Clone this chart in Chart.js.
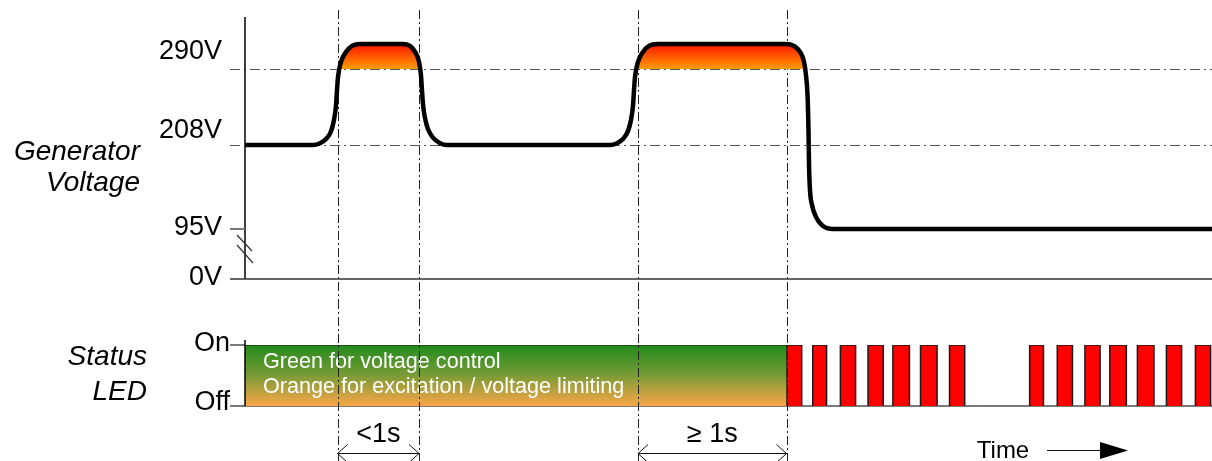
<!DOCTYPE html>
<html>
<head>
<meta charset="utf-8">
<title>Generator voltage and status LED</title>
<script src="https://cdn.jsdelivr.net/npm/chart.js@4.4.0/dist/chart.umd.min.js"></script>
<style>
  html, body { margin: 0; padding: 0; background: #fff; }
  .wrap { position: relative; width: 1212px; height: 461px; overflow: hidden; }
  #voltageChart { position: absolute; left: 0; top: 0; }
  #ledChart { position: absolute; left: 0; top: 300px; }
</style>
</head>
<body>
<div class="wrap">
  <canvas id="voltageChart" width="1212" height="300"></canvas>
  <canvas id="ledChart" width="1212" height="161"></canvas>
</div>
<script>
// time in seconds, voltage in volts
const timeMin = 0;
const timeMax = 7;

const voltTimes = [0, 0.492, 0.543, 0.586, 0.623, 0.644, 0.659, 0.666, 0.673, 0.695, 0.731, 0.775, 0.832,
    1.144, 1.194, 1.231, 1.260, 1.274, 1.281, 1.289, 1.303, 1.325, 1.361, 1.412, 1.462,
    2.642, 2.693, 2.736, 2.772, 2.794, 2.809, 2.816, 2.823, 2.845, 2.881, 2.924, 2.989,
    3.916, 3.974, 4.018, 4.047, 4.061, 4.072, 4.079, 4.083, 4.090, 4.105, 4.134, 4.177, 4.257, 7.0];
const voltValues = [208, 208, 210, 214.5, 223, 235, 251, 267, 281, 297, 307, 313, 315,
    315, 313, 307, 297, 283, 267, 251, 237, 225, 216, 210, 208,
    208, 210, 214.5, 223, 235, 251, 267, 281, 297, 307, 313, 315,
    315, 313, 307, 297, 283, 262, 224, 181, 147, 127, 111, 100, 95, 95];

const voltTickValues = [0, 95, 208, 290];
const voltTickLabels = ['0V', '95V', '208V', '290V'];
const voltRefLines = [208, 290];
const voltLimit = 290;

const markerTimes = [0.67, 1.26, 2.845, 3.92];
const spanLabels = ['<1s', '\u2265 1s'];

const ledStates = ['Off', 'On'];
const steadyOnUntil = 3.92;
const blinkStarts = [3.92, 4.11, 4.31, 4.51, 4.69, 4.89, 5.10, 5.68, 5.88, 6.08, 6.26, 6.46, 6.67, 6.88];
const blinkEnds = [4.03, 4.21, 4.42, 4.62, 4.81, 5.01, 5.21, 5.78, 5.99, 6.19, 6.38, 6.58, 6.78, 6.99];
const ledNotes = ['Green for voltage control', 'Orange for excitation / voltage limiting'];

const FONT = "'Liberation Sans', Arial, sans-serif";

// the voltage axis is a schematic one with a break below 95V
const axisKnots = [0, 95, 208, 290, 342];
const axisKnotSpots = [0, 0.191, 0.511, 0.802, 1];

function interp(v, from, to) {
    for (let i = 1; i < from.length; i++) {
        if (v <= from[i] || i === from.length - 1) {
            const f = (v - from[i - 1]) / (from[i] - from[i - 1]);
            return to[i - 1] + f * (to[i] - to[i - 1]);
        }
    }
    return to[0];
}

class SchematicScale extends Chart.LinearScale {
    getPixelForValue(value) {
        return this.getPixelForDecimal(interp(value, axisKnots, axisKnotSpots));
    }
    getValueForPixel(pixel) {
        return interp(this.getDecimalForPixel(pixel), axisKnotSpots, axisKnots);
    }
}
SchematicScale.id = 'schematic';
SchematicScale.defaults = Chart.LinearScale.defaults;
Chart.register(SchematicScale);

function dashLine(ctx, x1, y1, x2, y2, dash, color, width) {
    ctx.save();
    ctx.strokeStyle = color;
    ctx.lineWidth = width;
    ctx.setLineDash(dash);
    ctx.beginPath();
    ctx.moveTo(x1, y1);
    ctx.lineTo(x2, y2);
    ctx.stroke();
    ctx.restore();
}

function overLimitFill(context) {
    const chart = context.chart;
    const y = chart.scales.y;
    if (!chart.chartArea || !y) return 'rgba(0,0,0,0)';
    const top = y.getPixelForValue(Math.max(...voltValues));
    const bottom = y.getPixelForValue(voltLimit);
    const g = chart.ctx.createLinearGradient(0, top, 0, bottom);
    g.addColorStop(0, '#ff1500');
    g.addColorStop(1, '#ff9c00');
    return g;
}

function steadyFill(context) {
    const chart = context.chart;
    const y = chart.scales.y;
    if (!chart.chartArea || !y) return 'rgba(0,0,0,0)';
    const g = chart.ctx.createLinearGradient(0, y.getPixelForValue(1), 0, y.getPixelForValue(0));
    g.addColorStop(0, '#238a1c');
    g.addColorStop(0.45, '#6f9a34');
    g.addColorStop(1, '#f9a648');
    return g;
}

const voltDecorations = {
    id: 'voltDecorations',
    beforeDatasetsDraw(chart) {
        const {ctx, chartArea: area, scales: {x, y}} = chart;
        const left = area.left;

        markerTimes.forEach(t => {
            const px = Math.round(x.getPixelForValue(t)) + 0.5;
            dashLine(ctx, px, 10, px, chart.height, [9, 3, 2, 3], '#222', 1);
        });

        voltRefLines.forEach(v => {
            const py = Math.round(y.getPixelForValue(v)) + 0.5;
            dashLine(ctx, left - 15, py, area.right, py, [10, 4, 2, 4], '#555', 1.2);
        });

        // y axis, baseline, 95V tick and the break marks
        const y0 = y.getPixelForValue(0);
        const y95 = y.getPixelForValue(95);
        dashLine(ctx, left, area.top, left, y0, [], '#000', 1.5);
        dashLine(ctx, left - 15, y0, area.right, y0, [], '#333', 1.5);
        dashLine(ctx, left - 15, y95, left, y95, [], '#777', 2);
        const mid = (y0 + y95) / 2;
        dashLine(ctx, left - 8, mid - 19, left + 7, mid - 3, [], '#333', 1.2);
        dashLine(ctx, left - 8, mid - 9, left + 8, mid + 9, [], '#333', 1.2);
    },
    afterDraw(chart) {
        const {ctx, scales: {y}} = chart;
        const nudge = [-1, -1, -15, -17];
        ctx.save();
        ctx.fillStyle = '#000';
        ctx.font = '27px ' + FONT;
        ctx.textAlign = 'right';
        ctx.textBaseline = 'middle';
        voltTickValues.forEach((v, i) => {
            ctx.fillText(voltTickLabels[i], 222, y.getPixelForValue(v) + nudge[i]);
        });
        ctx.font = 'italic 28px ' + FONT;
        ctx.textBaseline = 'alphabetic';
        ctx.fillText('Generator', 140, 160);
        ctx.fillText('Voltage', 140, 191);
        ctx.restore();
    }
};

const ledDecorations = {
    id: 'ledDecorations',
    beforeDatasetsDraw(chart) {
        const {ctx, chartArea: area, scales: {y}} = chart;
        const yOff = y.getPixelForValue(0);
        const yOn = y.getPixelForValue(1);
        dashLine(ctx, area.left, yOff, area.right, yOff, [], '#7a7a7a', 2);
        dashLine(ctx, area.left - 15, yOn, area.left, yOn, [], '#7a7a7a', 2);
        dashLine(ctx, area.left - 15, yOff, area.left, yOff, [], '#7a7a7a', 2);
    },
    afterDatasetsDraw(chart) {
        const {ctx, chartArea: area, scales: {x, y}} = chart;
        const yOff = y.getPixelForValue(0);
        const yOn = y.getPixelForValue(1);
        const left = area.left;

        dashLine(ctx, left, yOn - 5, left, yOff, [], '#000', 1.5);

        ctx.save();
        ctx.fillStyle = '#fff';
        ctx.font = '21.6px ' + FONT;
        ctx.textAlign = 'left';
        ctx.fillText(ledNotes[0], left + 18, yOn + 23);
        ctx.fillText(ledNotes[1], left + 18, yOn + 48);
        ctx.restore();

        markerTimes.forEach(t => {
            const px = Math.round(x.getPixelForValue(t)) + 0.5;
            dashLine(ctx, px, 0, px, chart.height, [9, 3, 2, 3], '#222', 1);
        });

        // dimension arrows between marker pairs
        ctx.save();
        ctx.strokeStyle = '#111';
        ctx.fillStyle = '#000';
        ctx.lineWidth = 1;
        ctx.font = '27px ' + FONT;
        ctx.textAlign = 'center';
        const ay = 153.5;
        spanLabels.forEach((label, i) => {
            const a = x.getPixelForValue(markerTimes[i * 2]);
            const b = x.getPixelForValue(markerTimes[i * 2 + 1]);
            ctx.beginPath();
            ctx.moveTo(a, ay); ctx.lineTo(b, ay);
            ctx.moveTo(a + 10, ay - 9); ctx.lineTo(a, ay); ctx.lineTo(a + 10, ay + 9);
            ctx.moveTo(b - 10, ay - 9); ctx.lineTo(b, ay); ctx.lineTo(b - 10, ay + 9);
            ctx.stroke();
            ctx.fillText(label, (a + b) / 2, 142);
        });

        // time direction
        const r = area.right;
        ctx.font = '24px ' + FONT;
        ctx.fillText('Time', r - 209, 158);
        ctx.beginPath();
        ctx.moveTo(r - 165, 150.5);
        ctx.lineTo(r - 105, 150.5);
        ctx.stroke();
        ctx.beginPath();
        ctx.moveTo(r - 112, 142);
        ctx.lineTo(r - 84, 150.5);
        ctx.lineTo(r - 112, 159);
        ctx.closePath();
        ctx.fill();
        ctx.restore();

        ctx.save();
        ctx.fillStyle = '#000';
        ctx.font = '27px ' + FONT;
        ctx.textAlign = 'right';
        ctx.textBaseline = 'middle';
        ctx.fillText(ledStates[1], 230, yOn - 1);
        ctx.fillText(ledStates[0], 230, yOff - 3);
        ctx.font = 'italic 28px ' + FONT;
        ctx.textBaseline = 'alphabetic';
        ctx.fillText('Status', 147, 65);
        ctx.fillText('LED', 147, 100);
        ctx.restore();
    }
};

const baseOptions = {
    responsive: false,
    animation: false,
    events: [],
    plugins: { legend: { display: false }, tooltip: { enabled: false } }
};

new Chart(document.getElementById('voltageChart'), {
    type: 'line',
    data: {
        datasets: [{
            data: voltTimes.map((t, i) => ({ x: t, y: voltValues[i] })),
            borderColor: '#000',
            borderWidth: 4.5,
            borderCapStyle: 'round',
            borderJoinStyle: 'round',
            cubicInterpolationMode: 'monotone',
            pointRadius: 0,
            backgroundColor: overLimitFill,
            fill: { target: { value: voltLimit }, below: 'rgba(0,0,0,0)' }
        }]
    },
    options: {
        ...baseOptions,
        layout: { padding: { left: 245, right: 0, top: 17, bottom: 21 } },
        scales: {
            x: { type: 'linear', min: timeMin, max: timeMax, display: false },
            y: { type: 'schematic', min: axisKnots[0], max: axisKnots[axisKnots.length - 1], display: false }
        }
    },
    plugins: [voltDecorations]
});

const blinkPoints = [];
blinkStarts.forEach((s, i) => {
    const e = blinkEnds[i];
    blinkPoints.push({ x: s, y: 0 }, { x: s, y: 1 }, { x: e, y: 1 }, { x: e, y: 0 });
});

new Chart(document.getElementById('ledChart'), {
    type: 'line',
    data: {
        datasets: [
            {
                data: [{ x: timeMin, y: 1 }, { x: steadyOnUntil, y: 1 }],
                borderColor: '#1d3a12',
                borderWidth: 1.5,
                pointRadius: 0,
                backgroundColor: steadyFill,
                fill: 'origin'
            },
            {
                data: blinkPoints,
                borderColor: '#1a1a1a',
                borderWidth: 1.5,
                pointRadius: 0,
                backgroundColor: '#ff0000',
                fill: 'origin',
                segment: {
                    borderColor: c => (c.p0.parsed.y === 0 && c.p1.parsed.y === 0) ? '#7a7a7a' : '#1a1a1a'
                }
            }
        ]
    },
    options: {
        ...baseOptions,
        layout: { padding: { left: 245, right: 0, top: 45, bottom: 55 } },
        scales: {
            x: { type: 'linear', min: timeMin, max: timeMax, display: false },
            y: { type: 'linear', min: 0, max: 1, display: false }
        }
    },
    plugins: [ledDecorations]
});
</script>
</body>
</html>
